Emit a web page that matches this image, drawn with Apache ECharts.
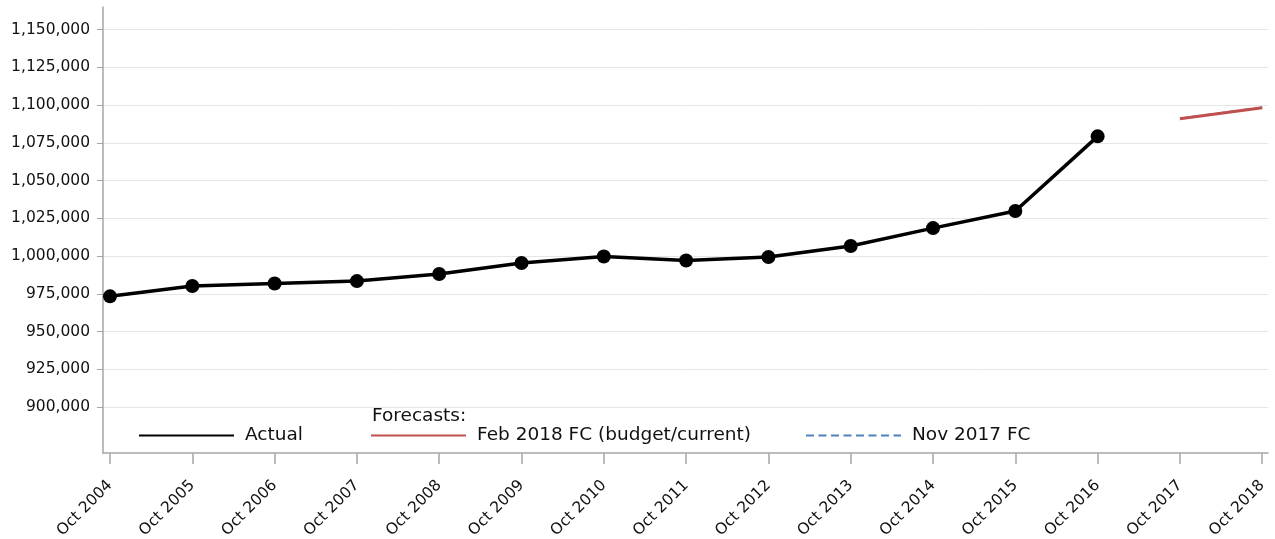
<!DOCTYPE html>
<html>
<head>
<meta charset="utf-8">
<script src="https://cdn.jsdelivr.net/npm/echarts@6/dist/echarts.min.js"></script>
<style>
html, body { margin: 0; padding: 0; background: #fff; }
#chart { width: 1275px; height: 539px; }
</style>
</head>
<body>
<div id="chart"></div>
<script>
// x axis positions and their labels
var periods = ['Oct 2004', 'Oct 2005', 'Oct 2006', 'Oct 2007', 'Oct 2008', 'Oct 2009', 'Oct 2010',
	'Oct 2011', 'Oct 2012', 'Oct 2013', 'Oct 2014', 'Oct 2015', 'Oct 2016', 'Oct 2017', 'Oct 2018'];

// actual values, Oct 2004 .. Oct 2016
var actual = [973300, 980100, 981800, 983400, 988100, 995400, 999700,
	997000, 999300, 1006600, 1018500, 1029800, 1079300];

// forecasts, Oct 2017 .. Oct 2018
var forecastStart = 13;
var febFC = [1090900, 1098300];
var novFC = [1091100, 1098500];

var yTicks = [900000, 925000, 950000, 975000, 1000000, 1025000, 1050000, 1075000, 1100000, 1125000, 1150000];

function toPairs(values, start){
	var arr = [];
	for(var i=0; i<values.length; i++){
		arr.push([start + i, values[i]]);
	}
	return arr;
}

var xTicks = [];
for(var i=0; i<periods.length; i++){ xTicks.push(i); }

var font = 'DejaVu Sans';
var chart = echarts.init(document.getElementById('chart'));

var option = {
	animation: false,
	grid: { left: 103, right: 7, top: 7, bottom: 86, outerBoundsMode: 'none', containLabel: false },
	xAxis: {
		type: 'value',
		min: -0.085,
		max: 14.07,
		axisLine: { onZero: false, lineStyle: { color: '#a6a6a6', width: 1.5 } },
		axisTick: { show: true, customValues: xTicks, length: 11, lineStyle: { color: '#a6a6a6', width: 1.5 } },
		axisLabel: {
			customValues: xTicks,
			rotate: 45,
			margin: 30,
			fontFamily: font,
			fontSize: 15.5,
			color: '#111',
			formatter: function(v){ return periods[Math.round(v)]; }
		},
		splitLine: { show: false }
	},
	yAxis: {
		type: 'value',
		min: 869500,
		max: 1165000,
		axisLine: { show: true, onZero: false, lineStyle: { color: '#a6a6a6', width: 1.5 } },
		axisTick: { show: true, customValues: yTicks, length: 6, lineStyle: { color: '#a6a6a6' } },
		axisLabel: {
			customValues: yTicks,
			margin: 13,
			fontFamily: font,
			fontSize: 15.5,
			color: '#111',
			formatter: function(v){ return v.toLocaleString('en-US'); }
		},
		splitLine: { show: true, lineStyle: { color: '#e6e6e6', width: 1 } }
	},
	legend: [
		{
			data: ['Actual'], left: 138, top: 426, padding: 0,
			itemWidth: 95, itemHeight: 14, itemStyle: { opacity: 0 },
			textStyle: { fontFamily: font, fontSize: 18.5, color: '#111', padding: [0, 0, 0, 6] }
		},
		{
			data: ['Feb 2018 FC (budget/current)'], left: 370, top: 426, padding: 0,
			itemWidth: 95, itemHeight: 14, itemStyle: { opacity: 0 },
			textStyle: { fontFamily: font, fontSize: 18.5, color: '#111', padding: [0, 0, 0, 6] }
		},
		{
			data: ['Nov 2017 FC'], left: 805, top: 426, padding: 0,
			itemWidth: 95, itemHeight: 14, itemStyle: { opacity: 0 },
			textStyle: { fontFamily: font, fontSize: 18.5, color: '#111', padding: [0, 0, 0, 6] }
		}
	],
	graphic: [
		{
			type: 'text', left: 372, top: 407,
			style: { text: 'Forecasts:', fontFamily: font, fontSize: 18.5, fill: '#111' }
		}
	],
	series: [
		{
			name: 'Nov 2017 FC',
			type: 'line',
			data: toPairs(novFC, forecastStart),
			symbol: 'none',
			lineStyle: { color: '#4f81bd', width: 2, type: [8, 4.5] },
			itemStyle: { color: '#4f81bd' },
			z: 2
		},
		{
			name: 'Feb 2018 FC (budget/current)',
			type: 'line',
			data: toPairs(febFC, forecastStart),
			symbol: 'none',
			lineStyle: { color: '#c0504d', width: 3 },
			itemStyle: { color: '#c0504d' },
			z: 3
		},
		{
			name: 'Actual',
			type: 'line',
			data: toPairs(actual, 0),
			symbol: 'circle',
			symbolSize: 14,
			lineStyle: { color: '#000', width: 3.5 },
			itemStyle: { color: '#000' },
			z: 4
		}
	]
};

chart.setOption(option);
</script>
</body>
</html>
